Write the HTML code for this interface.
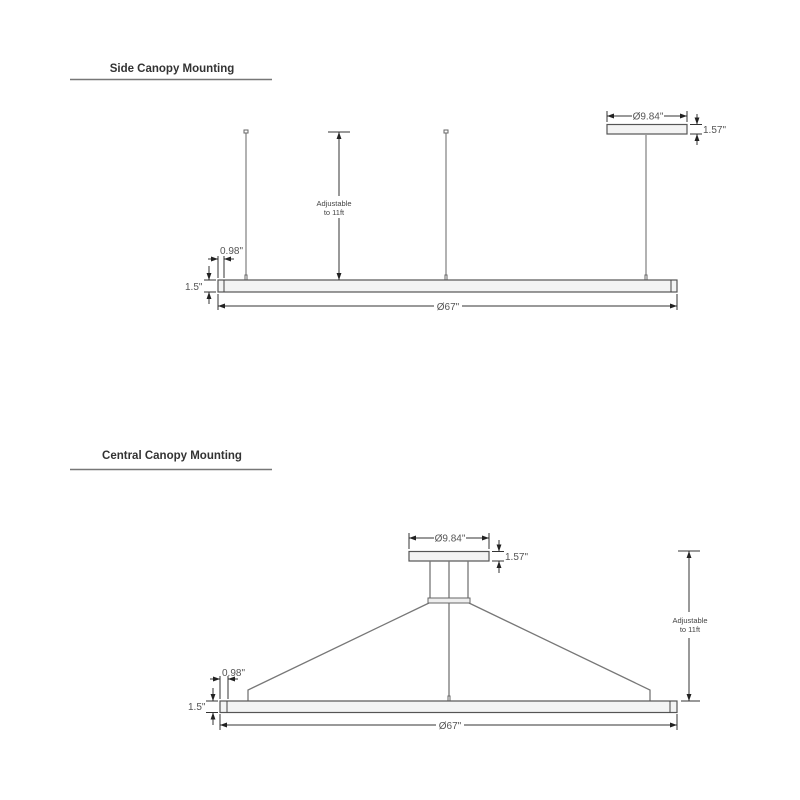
<!DOCTYPE html>
<html><head><meta charset="utf-8"><style>
html,body{margin:0;padding:0;background:#fff;width:800px;height:800px;overflow:hidden}
svg{display:block}
text{font-family:"Liberation Sans",sans-serif;fill:#555}
.t{font-weight:bold;font-size:11.5px;fill:#333}
.d{font-size:10px}
.s{font-size:7.5px;fill:#444}
</style></head><body>
<svg width="800" height="800" viewBox="0 0 800 800">
<defs>
<marker id="a" viewBox="0 0 10 10" refX="10" refY="5" markerWidth="7" markerHeight="7" orient="auto-start-reverse" markerUnits="userSpaceOnUse"><path d="M0,1.5 L10,5 L0,8.5 z" fill="#222"/></marker>
</defs>

<!-- ===== TOP ===== -->
<text class="t" x="172" y="72" text-anchor="middle">Side Canopy Mounting</text>
<line x1="70" y1="79.5" x2="272" y2="79.5" stroke="#777" stroke-width="1.5"/>

<!-- cables -->
<g stroke="#888" stroke-width="1.3" fill="none">
<line x1="246" y1="133" x2="246" y2="276"/>
<line x1="446" y1="133" x2="446" y2="276"/>
<line x1="646" y1="135" x2="646" y2="276"/>
</g>
<g fill="#fff" stroke="#666" stroke-width="1">
<rect x="244" y="130" width="4" height="3"/>
<rect x="444" y="130" width="4" height="3"/>
<rect x="245" y="275" width="2" height="5"/>
<rect x="445" y="275" width="2" height="5"/>
<rect x="645" y="275" width="2" height="5"/>
</g>
<!-- canopy -->
<rect x="607" y="124.5" width="80" height="9.5" fill="#f3f3f3" stroke="#555" stroke-width="1.2"/>
<!-- bar -->
<rect x="218" y="280" width="459" height="12" fill="#f3f4f4" stroke="#555" stroke-width="1.2"/>
<line x1="224" y1="280" x2="224" y2="292" stroke="#444"/>
<line x1="671" y1="280" x2="671" y2="292" stroke="#444"/>

<!-- adjustable dim -->
<line x1="328" y1="132" x2="350" y2="132" stroke="#333"/>
<line x1="339" y1="132" x2="339" y2="196" stroke="#333" marker-start="url(#a)"/>
<line x1="339" y1="218" x2="339" y2="280" stroke="#333" marker-end="url(#a)"/>
<text class="s" x="334" y="206" text-anchor="middle">Adjustable</text>
<text class="s" x="334" y="215" text-anchor="middle">to 11ft</text>

<!-- Ø9.84 -->
<g stroke="#333" stroke-width="1">
<line x1="607" y1="111" x2="607" y2="122"/>
<line x1="687" y1="111" x2="687" y2="122"/>
<line x1="607" y1="116" x2="632" y2="116" marker-start="url(#a)"/>
<line x1="664" y1="116" x2="687" y2="116" marker-end="url(#a)"/>
<line x1="690" y1="124.5" x2="702" y2="124.5"/>
<line x1="690" y1="134" x2="702" y2="134"/>
<line x1="697" y1="114" x2="697" y2="124.5" marker-end="url(#a)"/>
<line x1="697" y1="145" x2="697" y2="134" marker-end="url(#a)"/>
</g>
<text class="d" x="648" y="119.5" text-anchor="middle">Ø9.84"</text>
<text class="d" x="703" y="133">1.57"</text>

<!-- 0.98 -->
<g stroke="#333" stroke-width="1">
<line x1="218" y1="256" x2="218" y2="278"/>
<line x1="224" y1="256" x2="224" y2="278"/>
<line x1="208" y1="259" x2="218" y2="259" marker-end="url(#a)"/>
<line x1="234" y1="259" x2="224" y2="259" marker-end="url(#a)"/>
<!-- 1.5 -->
<line x1="204" y1="280" x2="216" y2="280"/>
<line x1="204" y1="292" x2="216" y2="292"/>
<line x1="209" y1="266" x2="209" y2="280" marker-end="url(#a)"/>
<line x1="209" y1="304" x2="209" y2="292" marker-end="url(#a)"/>
<!-- Ø67 -->
<line x1="218" y1="294" x2="218" y2="310"/>
<line x1="677" y1="294" x2="677" y2="310"/>
<line x1="218" y1="306" x2="434" y2="306" marker-start="url(#a)"/>
<line x1="462" y1="306" x2="677" y2="306" marker-end="url(#a)"/>
</g>
<text class="d" x="220" y="254">0.98"</text>
<text class="d" x="185" y="290">1.5"</text>
<text class="d" x="448" y="310" text-anchor="middle">Ø67"</text>

<!-- ===== BOTTOM ===== -->
<text class="t" x="172" y="459" text-anchor="middle">Central Canopy Mounting</text>
<line x1="70" y1="469.5" x2="272" y2="469.5" stroke="#777" stroke-width="1.5"/>

<rect x="409" y="551.5" width="80" height="9.5" fill="#f3f3f3" stroke="#555" stroke-width="1.2"/>
<g stroke="#777" stroke-width="1.3" fill="none">
<line x1="430" y1="561" x2="430" y2="598"/>
<line x1="468" y1="561" x2="468" y2="598"/>
<line x1="449" y1="561" x2="449" y2="696"/>
<polyline points="429,603 248,690 248,701"/>
<polyline points="469,603 650,690 650,701"/>
</g>
<rect x="428" y="598" width="42" height="5" fill="#eee" stroke="#666" stroke-width="1"/>
<rect x="448" y="696" width="2" height="5" fill="#fff" stroke="#666" stroke-width="1"/>

<rect x="220" y="701" width="457" height="11.5" fill="#f3f4f4" stroke="#555" stroke-width="1.2"/>
<line x1="227" y1="701" x2="227" y2="712.5" stroke="#444"/>
<line x1="670" y1="701" x2="670" y2="712.5" stroke="#444"/>

<!-- adjustable -->
<line x1="678" y1="551" x2="700" y2="551" stroke="#333"/>
<line x1="681" y1="701" x2="700" y2="701" stroke="#333"/>
<line x1="689" y1="551" x2="689" y2="612" stroke="#333" marker-start="url(#a)"/>
<line x1="689" y1="638" x2="689" y2="701" stroke="#333" marker-end="url(#a)"/>
<text class="s" x="690" y="623" text-anchor="middle">Adjustable</text>
<text class="s" x="690" y="632" text-anchor="middle">to 11ft</text>

<g stroke="#333" stroke-width="1">
<line x1="409" y1="533" x2="409" y2="549"/>
<line x1="489" y1="533" x2="489" y2="549"/>
<line x1="409" y1="538" x2="434" y2="538" marker-start="url(#a)"/>
<line x1="466" y1="538" x2="489" y2="538" marker-end="url(#a)"/>
<line x1="492" y1="551.5" x2="504" y2="551.5"/>
<line x1="492" y1="561" x2="504" y2="561"/>
<line x1="499" y1="540" x2="499" y2="551.5" marker-end="url(#a)"/>
<line x1="499" y1="573" x2="499" y2="561" marker-end="url(#a)"/>

<line x1="220" y1="676" x2="220" y2="699"/>
<line x1="228" y1="676" x2="228" y2="699"/>
<line x1="210" y1="679" x2="220" y2="679" marker-end="url(#a)"/>
<line x1="238" y1="679" x2="228" y2="679" marker-end="url(#a)"/>
<line x1="206" y1="701" x2="218" y2="701"/>
<line x1="206" y1="712.5" x2="218" y2="712.5"/>
<line x1="213" y1="688" x2="213" y2="701" marker-end="url(#a)"/>
<line x1="213" y1="725" x2="213" y2="712.5" marker-end="url(#a)"/>
<line x1="220" y1="714" x2="220" y2="730"/>
<line x1="677" y1="714" x2="677" y2="730"/>
<line x1="220" y1="725" x2="436" y2="725" marker-start="url(#a)"/>
<line x1="464" y1="725" x2="677" y2="725" marker-end="url(#a)"/>
</g>
<text class="d" x="450" y="541.5" text-anchor="middle">Ø9.84"</text>
<text class="d" x="505" y="560">1.57"</text>
<text class="d" x="222" y="676">0.98"</text>
<text class="d" x="188" y="710">1.5"</text>
<text class="d" x="450" y="729" text-anchor="middle">Ø67"</text>
</svg>
</body></html>
